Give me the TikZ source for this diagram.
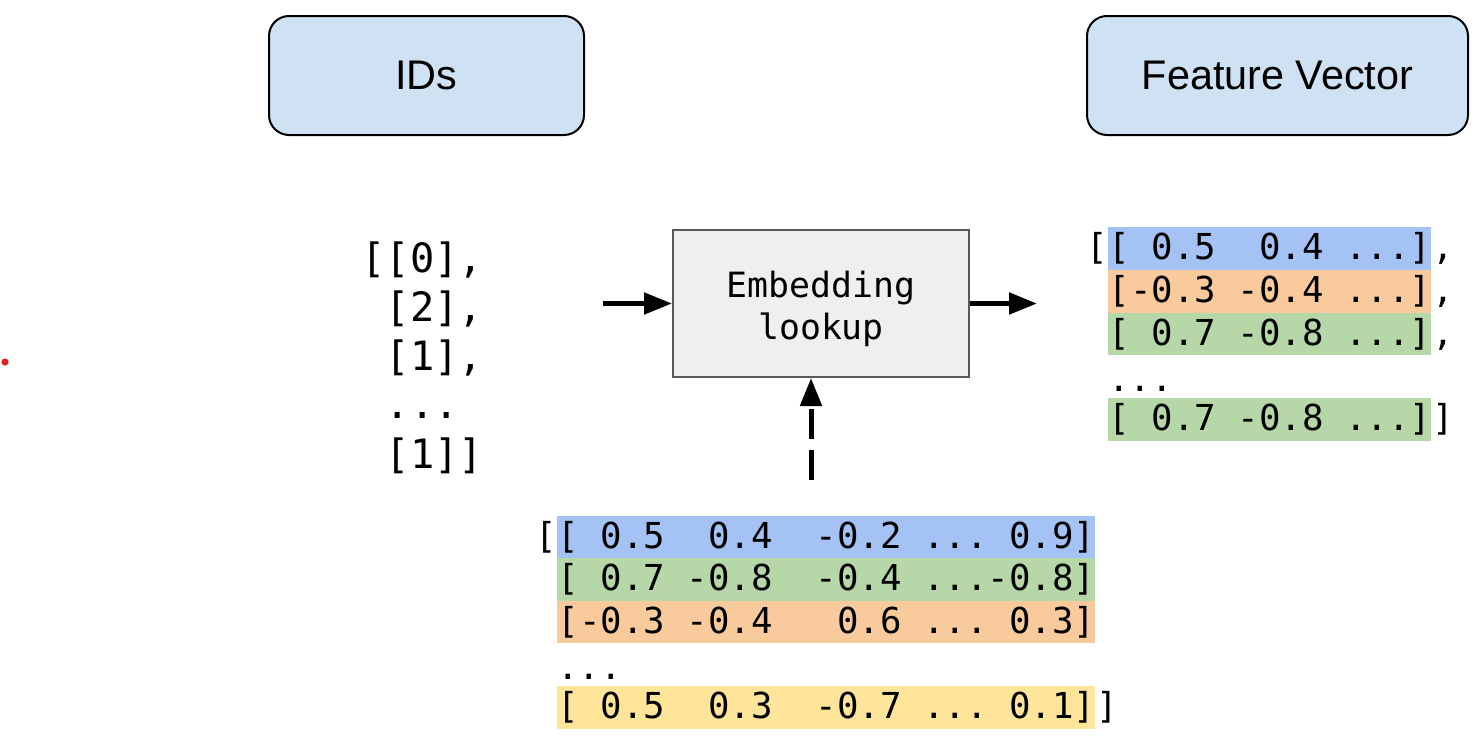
\documentclass[tikz,border=0pt]{standalone}
\usepackage{fontspec}
\setmainfont{Liberation Sans}
\newfontfamily\mono{DejaVu Sans Mono}
\usetikzlibrary{arrows.meta}
\definecolor{hdrfill}{HTML}{CFE2F3}
\definecolor{embfill}{HTML}{EFEFEF}
\definecolor{embdraw}{HTML}{595959}
\definecolor{bandblue}{HTML}{A4C2F4}
\definecolor{bandorange}{HTML}{F9CB9C}
\definecolor{bandgreen}{HTML}{B6D7A8}
\definecolor{bandyellow}{HTML}{FFE599}
\definecolor{dotred}{HTML}{E8221E}
\begin{document}
\begin{tikzpicture}[x=0.5pt,y=-0.5pt,
  header/.style={draw=black, line width=1pt, fill=hdrfill, rounded corners=10pt,
    minimum height=59.5pt, inner sep=0pt, font=\fontsize{20.7}{24}\selectfont},
  embbox/.style={draw=embdraw, line width=1pt, fill=embfill, minimum width=148pt,
    minimum height=73.5pt, inner sep=0pt},
  embtxt/.style={inner sep=0pt, align=center, yshift=-2.5pt,
    font=\mono\fontsize{17.4}{21}\selectfont},
  mtx/.style={inner sep=0pt, font=\mono\fontsize{17.86}{21.5}\selectfont},
  idtxt/.style={inner sep=0pt, font=\mono\fontsize{20.2}{24.5}\selectfont},
  band/.style={mtx, fill=#1, anchor=north west, minimum height=21.33pt},
  rband/.style={band=#1, minimum width=161.5pt},
  bband/.style={band=#1, minimum width=269pt, minimum height=21.25pt},
  arr/.style={line width=2.5pt, -{Triangle[length=14pt,width=10.5pt]}},
]
\useasboundingbox (0,0) rectangle (1475,744);

% header boxes
\node[header, minimum width=157.5pt] (ids) at (426.5,75.5) {\raisebox{-1pt}{IDs}};
\node[header, minimum width=190.5pt] (fv) at (1277.5,75.5) {\raisebox{-1pt}{Feature Vector}};

% red dot
\node[circle, fill=dotred, inner sep=0pt, minimum size=3.6pt] (reddot) at (5,362) {};

% IDs list
\node[idtxt, anchor=base west] (id1) at (361,272) {[[0],};
\node[idtxt, anchor=base west] (id2) at (361,321) {~[2],};
\node[idtxt, anchor=base west] (id3) at (361,370) {~[1],};
\node[idtxt, anchor=base west] (id4) at (361,418) {~...};
\node[idtxt, anchor=base west] (id5) at (361,468) {~[1]]};

% embedding lookup
\node[embbox, label={[embtxt]center:Embedding\\lookup}] (emb) at (821,303.5) {};
\coordinate (inS) at (603,303.5);
\coordinate (outE) at (1037,303.5);
\coordinate (dashS) at (811,480);
\draw[arr] (inS) -- (emb.west);
\draw[arr] (emb.east) -- (outE);
\draw[arr, dash pattern=on 15pt off 5.5pt] (dashS) -- (dashS |- emb.south);

% feature vector matrix (right)
\node[rband=bandblue] (r1) at (1108,227) {[~0.5~~0.4~...]};
\node[rband=bandorange] (r2) at (1108,269.67) {[-0.3~-0.4~...]};
\node[rband=bandgreen] (r3) at (1108,312.33) {[~0.7~-0.8~...]};
\node[rband=bandgreen] (r5) at (1108,398) {[~0.7~-0.8~...]};
\node[mtx, anchor=base west] (rdots) at (1108,391) {...};
\node[mtx, anchor=base east] (rl) at (r1.base west) {[};
\node[mtx, anchor=base west] (rc1) at (r1.base east) {,};
\node[mtx, anchor=base west] (rc2) at (r2.base east) {,};
\node[mtx, anchor=base west] (rc3) at (r3.base east) {,};
\node[mtx, anchor=base west] (rr) at (r5.base east) {]};

% embedding table (bottom)
\node[bband=bandblue] (b1) at (557,515.5) {[~0.5~~0.4~~-0.2~...~0.9]};
\node[bband=bandgreen] (b2) at (557,558) {[~0.7~-0.8~~-0.4~...-0.8]};
\node[bband=bandorange] (b3) at (557,600.5) {[-0.3~-0.4~~~0.6~...~0.3]};
\node[bband=bandyellow] (b5) at (557,686) {[~0.5~~0.3~~-0.7~...~0.1]};
\node[mtx, anchor=base west] (bdots) at (557,679) {...};
\node[mtx, anchor=base east] (bl) at (b1.base west) {[};
\node[mtx, anchor=base west] (br) at (b5.base east) {]};
\end{tikzpicture}
\end{document}
